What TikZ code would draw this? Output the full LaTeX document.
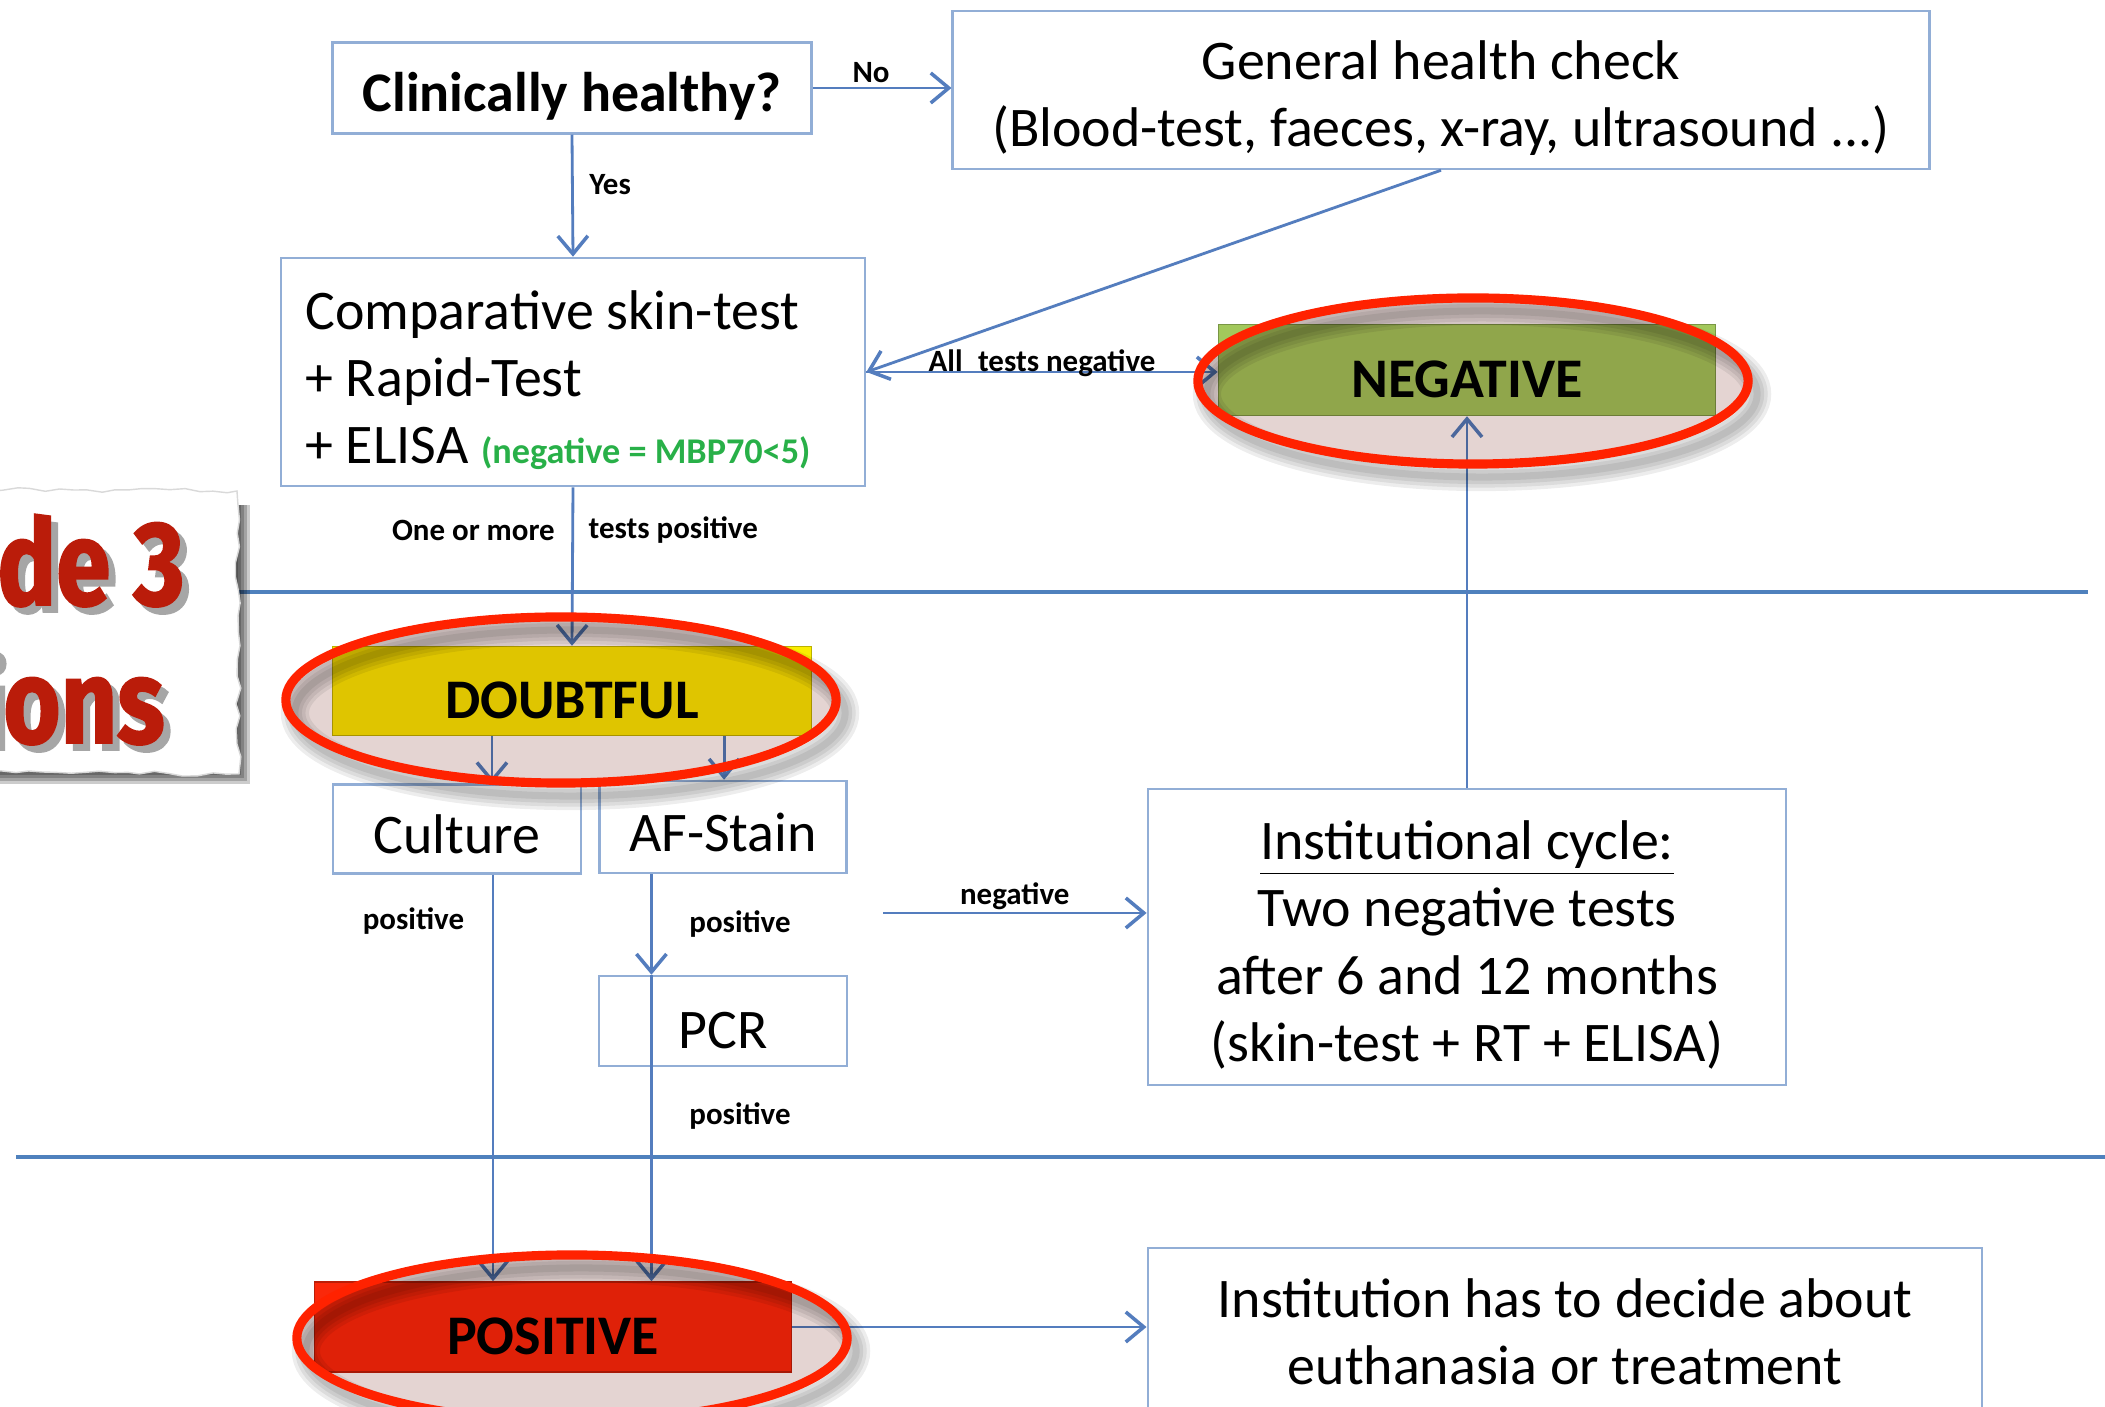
\documentclass[tikz,border=0pt]{standalone}
\usepackage{fontspec}
\setmainfont{Carlito}
\newfontfamily\cardfont{Fira Sans}[FakeBold=1.5,FakeStretch=0.82]
\usetikzlibrary{arrows.meta,decorations.pathmorphing}

\definecolor{linkblue}{RGB}{84,125,190}
\definecolor{boxblue}{RGB}{146,174,214}
\definecolor{ruleblue}{RGB}{79,129,189}
\definecolor{negfill}{RGB}{162,200,92}
\definecolor{doubtfill}{RGB}{250,238,0}
\definecolor{posfill}{RGB}{250,40,10}
\definecolor{ringred}{RGB}{255,34,0}
\definecolor{ringtint}{RGB}{228,212,210}
\definecolor{elisagreen}{RGB}{40,176,72}
\definecolor{cardred}{RGB}{186,28,10}

\newcommand{\bigtext}{\fontsize{15.9}{19.1}\selectfont}
\newcommand{\smalltext}{\fontsize{8.8}{10.5}\selectfont\bfseries}
\newcommand{\topstrut}{\rule{0pt}{15.6pt}}
\newcommand{\lowstrut}{\rule{0pt}{14.2pt}}

\begin{document}
\begin{tikzpicture}[x=0.01cm,y=-0.01cm,
  box/.style={draw=boxblue,line width=0.7pt,fill=white,inner sep=0pt,align=center,font=\bigtext},
  verdict/.style={draw=#1!75!black,fill=#1,line width=0.4pt,inner sep=0pt,font=\bigtext\bfseries},
  link/.style={draw=linkblue,line width=0.8pt,-{Straight Barb[length=0.18cm,width=0.3cm,line width=1pt]}},
  lbl/.style={font=\smalltext,inner sep=1pt},
  rule/.style={draw=ruleblue,line width=0.9pt},
  ring/.style={draw=ringred,line width=2.6pt}]
  \useasboundingbox (0,0) rectangle (2105,1407);
  \clip (0,0) rectangle (2105,1407);
  \fill[white] (0,0) rectangle (2105,1407);

  % the two separating rules
  \draw[rule] (0,592) -- (2088,592);
  \draw[rule] (16,1157) -- (2105,1157);

  \node[box,font=\bigtext\bfseries,minimum width=4.79cm,minimum height=0.91cm] (healthy) at (572,88) {\topstrut Clinically healthy?};
  \node[box,minimum width=9.76cm,minimum height=1.58cm] (check) at (1441,90)
    {\topstrut General health check\\(Blood-test, faeces, x-ray, ultrasound ...)};
  \node[box,align=left,minimum width=5.84cm,minimum height=2.28cm] (compare) at (573,372)
    {\topstrut Comparative skin-test\\+ Rapid-Test\\+ ELISA {\fontsize{10.3}{12}\selectfont\bfseries\color{elisagreen}(negative = MBP70<5)}\hspace*{0.3cm}};
  \node[verdict=negfill,minimum width=4.97cm,minimum height=0.91cm] (neg) at (1467,370) {\topstrut NEGATIVE};
  \node[verdict=doubtfill,minimum width=4.79cm,minimum height=0.89cm] (doubt) at (572,691) {\topstrut DOUBTFUL};
  \node[box,minimum width=2.48cm,minimum height=0.89cm] (culture) at (457,829) {\lowstrut Culture};
  \node[box,minimum width=2.47cm,minimum height=0.92cm] (afstain) at (723,827) {\lowstrut AF-Stain};
  \node[box,minimum width=2.48cm,minimum height=0.90cm] (pcr) at (723,1021) {\topstrut PCR};
  \node[box,minimum width=6.38cm,minimum height=2.96cm] (instcycle) at (1467,937)
    {\topstrut\underline{Institutional cycle:}\\Two negative tests\\after 6 and 12 months\\(skin-test + RT + ELISA)};
  \node[verdict=posfill,minimum width=4.77cm,minimum height=0.90cm] (pos) at (553,1327) {\topstrut POSITIVE};
  \node[box,minimum width=8.34cm,minimum height=1.68cm] (decide) at (1565,1332)
    {Institution has to decide about\\euthanasia or treatment};

  % connectors
  \draw[link] (healthy.east) -- (healthy.east -| check.west) node[lbl,pos=.42,above=0pt] {No};
  \draw[link] (healthy.south) -- (compare.north) node[lbl,pos=.41,right=0.12cm] {Yes};
  \draw[link] (check.south) -- (compare.east);
  \draw[link] (compare.east) -- (compare.east -| neg.west) node[lbl,midway,anchor=base] {All\enspace tests negative};
  \draw[link] (compare.south) -- (doubt.north)
    node[lbl,pos=.27,left=0.13cm] {One or more}
    node[lbl,pos=.27,right=0.11cm] {tests positive};
  \draw[link] ([xshift=-0.8cm]doubt.south) -- ([xshift=-0.8cm]doubt.south |- culture.north);
  \draw[link] ([xshift=1.52cm]doubt.south) -- ([xshift=1.52cm]doubt.south |- afstain.north);
  \draw[link] ([xshift=0.36cm]culture.south) -- ([xshift=0.36cm]culture.south |- pos.north)
    node[lbl,pos=.115,left=0.24cm] {positive};
  \draw[link] ([xshift=-0.715cm]afstain.south) -- ([xshift=-0.715cm]afstain.south |- pcr.north)
    node[lbl,midway,right=0.33cm] {positive};
  \draw[link] ([xshift=-0.715cm]pcr.north) -- ([xshift=-0.715cm]pcr.north |- pos.north)
    node[lbl,pos=.46,right=0.33cm] {positive};
  \coordinate (negfrom) at (883,913);
  \draw[link] (negfrom) -- (negfrom -| instcycle.west) node[lbl,midway,above=-0.6pt] {negative};
  \draw[link] (instcycle.north) -- (neg.south);
  \draw[link] (pos.east) -- (pos.east -| decide.west);

  % red rings round the three verdicts
  \coordinate (negring) at (1473,381);
  \coordinate (doubtring) at (561,700);
  \coordinate (posring) at (572,1338);
  \foreach \r in {negring,doubtring,posring}{
    \foreach \w in {8,6,4,2}
      \draw[black,opacity=.07,line width=\w pt] ([shift={(9,13)}]\r) ellipse [x radius=2.75cm,y radius=0.83cm];
    \begin{scope}[blend mode=multiply]
      \fill[ringtint] (\r) ellipse [x radius=2.75cm,y radius=0.83cm];
    \end{scope}
    \draw[ring] (\r) ellipse [x radius=2.75cm,y radius=0.83cm];
  }

  % torn paper card on the left
  \pgfmathsetseed{7}
  \foreach \d in {0,3,...,18}
    \fill[black,opacity=.2] (-40,505) rectangle (232+\d,766+\d);
  \fill[white,draw=black!15,decorate,decoration={random steps,segment length=4pt,amplitude=.7pt}]
    (-40,490) -- (237,491) -- (239,774) -- (-40,772) -- cycle;
  \node[font=\cardfont\bfseries\fontsize{34}{36}\selectfont,text=black!35,anchor=base east] (cardtopshade) at (204,612) {de 3};
  \node[font=\cardfont\bfseries\fontsize{34}{36}\selectfont,text=cardred,anchor=base east] (cardtop) at (197,605) {de 3};
  \node[font=\cardfont\bfseries\fontsize{34}{36}\selectfont,text=black!35,anchor=base east] (cardbottomshade) at (184,750) {ions};
  \node[font=\cardfont\bfseries\fontsize{34}{36}\selectfont,text=cardred,anchor=base east] (cardbottom) at (177,743) {ions};
\end{tikzpicture}
\end{document}
